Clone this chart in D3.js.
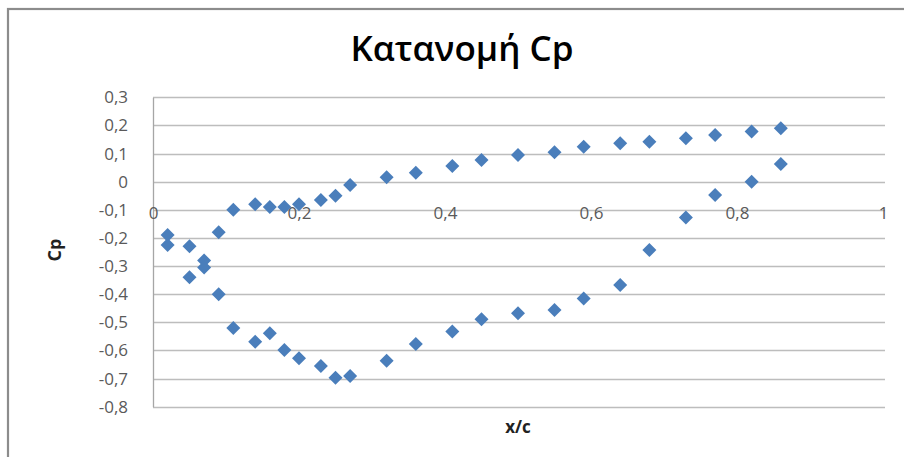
<!DOCTYPE html>
<html>
<head>
<meta charset="utf-8">
<script src="https://cdn.jsdelivr.net/npm/d3@7"></script>
<style>
  html, body { margin: 0; padding: 0; background: #ffffff; }
  svg { display: block; }
</style>
</head>
<body>
<svg id="chart" width="904" height="457"></svg>
<script>
const title = "Κατανομή Cp";
const xLabel = "x/c";
const yLabel = "Cp";
const xValues = [0.02, 0.05, 0.07, 0.09, 0.11, 0.14, 0.16, 0.18, 0.20, 0.23, 0.25, 0.27, 0.32, 0.36, 0.41, 0.45, 0.50, 0.55, 0.59, 0.64, 0.68, 0.73, 0.77, 0.82, 0.86];
const cpUpper = [-0.19, -0.23, -0.28, -0.18, -0.10, -0.08, -0.09, -0.09, -0.08, -0.065, -0.05, -0.012, 0.016, 0.032, 0.056, 0.077, 0.095, 0.105, 0.124, 0.137, 0.142, 0.154, 0.166, 0.178, 0.19];
const cpLower = [-0.225, -0.34, -0.305, -0.40, -0.52, -0.569, -0.539, -0.598, -0.628, -0.655, -0.697, -0.691, -0.637, -0.577, -0.533, -0.489, -0.468, -0.456, -0.415, -0.367, -0.243, -0.127, -0.047, 0.0, 0.063];
const xTicks = [0, 0.2, 0.4, 0.6, 0.8, 1];
const yTicks = [0.3, 0.2, 0.1, 0, -0.1, -0.2, -0.3, -0.4, -0.5, -0.6, -0.7, -0.8];

const svg = d3.select("#chart");
const fmt = d => String(+d.toFixed(1)).replace(".", ",");

const x = d3.scaleLinear().domain([0, 1]).range([153, 883]);
const y = d3.scaleLinear().domain([-0.8, 0.3]).range([406.7, 97.3]);

// outer chart border (left/top visible)
svg.append("rect").attr("x", 8).attr("y", 9).attr("width", 920).attr("height", 470)
  .attr("fill", "#ffffff").attr("stroke", "#8c8c8c").attr("stroke-width", 2.2);

// gridlines
svg.append("g").selectAll("line").data(yTicks).join("line")
  .attr("x1", x(0)).attr("x2", x(1) + 2)
  .attr("y1", d => Math.round(y(d)) + 0.5).attr("y2", d => Math.round(y(d)) + 0.5)
  .attr("stroke", "#bdbdbd").attr("stroke-width", 1.3);

// y axis
const yAxis = d3.axisLeft(y).tickValues(yTicks).tickFormat(fmt).tickSize(0).tickPadding(25);
const gy = svg.append("g").attr("transform", `translate(${x(0)},0)`).call(yAxis);
gy.select(".domain").attr("stroke", "#a6a6a6").attr("stroke-width", 1.3);
gy.selectAll("text").attr("fill", "#5a5a5a").attr("font-family", "'Open Sans', sans-serif").attr("font-size", 17);

// x axis labels (sitting below y=0 axis, as in reference)
const xAxis = d3.axisBottom(x).tickValues(xTicks).tickFormat(d => d === 1 ? "1" : fmt(d)).tickSize(0).tickPadding(25);
const gx = svg.append("g").attr("transform", `translate(0,${y(0)})`).call(xAxis);
gx.select(".domain").remove();
gx.selectAll("text").attr("fill", "#5a5a5a").attr("font-family", "'Open Sans', sans-serif").attr("font-size", 17);

// diamond markers
const diamond = (cx, cy, r) => `M${cx},${cy - r}L${cx + r},${cy}L${cx},${cy + r}L${cx - r},${cy}Z`;
const points = xValues.map((v, i) => ({ x: v, cp: cpUpper[i] }))
  .concat(xValues.map((v, i) => ({ x: v, cp: cpLower[i] })));
svg.append("g").selectAll("path").data(points).join("path")
  .attr("d", d => diamond(x(d.x), y(d.cp), 7))
  .attr("fill", "#4a7ebb");

// title
svg.append("text").attr("x", 462).attr("y", 61).attr("text-anchor", "middle")
  .attr("font-family", "'Open Sans', sans-serif").attr("font-weight", 600).attr("font-size", 35)
  .attr("fill", "#000").text(title);

// axis titles
svg.append("text").attr("x", 518).attr("y", 433).attr("text-anchor", "middle")
  .attr("font-family", "'Open Sans', sans-serif").attr("font-weight", 700).attr("font-size", 17)
  .attr("fill", "#222").text(xLabel);
svg.append("text").attr("transform", "translate(61,250) rotate(-90)").attr("text-anchor", "middle")
  .attr("font-family", "'Open Sans', sans-serif").attr("font-weight", 700).attr("font-size", 18)
  .attr("fill", "#222").text(yLabel);
</script>
</body>
</html>
